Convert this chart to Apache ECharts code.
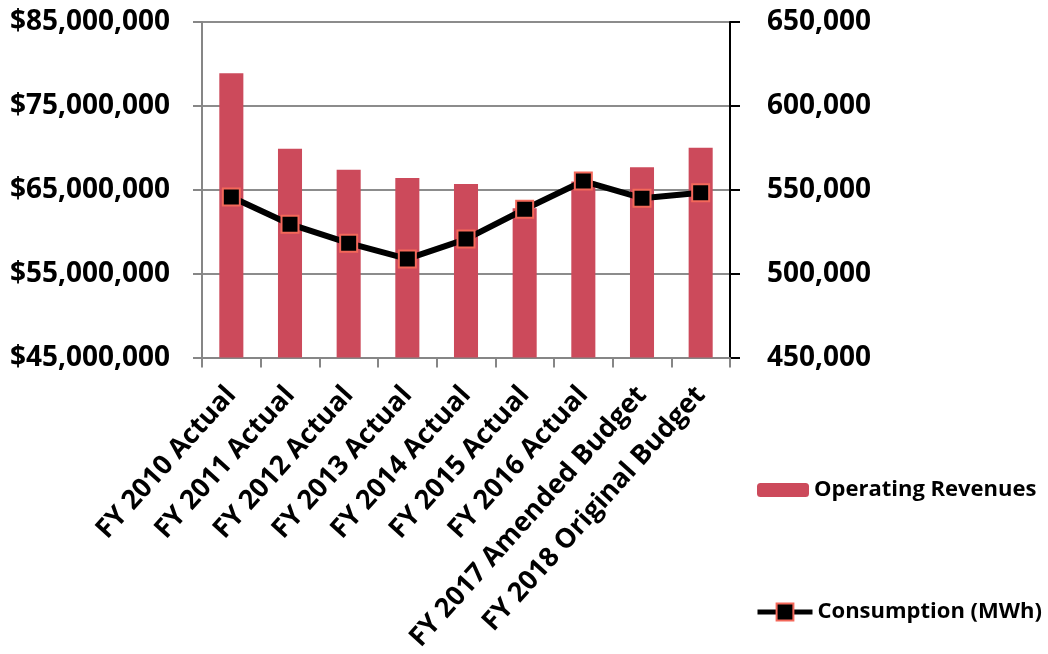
<!DOCTYPE html>
<html>
<head>
<meta charset="utf-8">
<title>Operating Revenues and Consumption</title>
<script src="https://cdn.jsdelivr.net/npm/echarts@6/dist/echarts.min.js"></script>
<style>
  html, body { margin: 0; padding: 0; background: #ffffff; }
  #chart { width: 1048px; height: 654px; }
</style>
</head>
<body>
<div id="chart"></div>
<script>
// Fiscal years shown on the category axis
const categories = [
  'FY 2010 Actual',
  'FY 2011 Actual',
  'FY 2012 Actual',
  'FY 2013 Actual',
  'FY 2014 Actual',
  'FY 2015 Actual',
  'FY 2016 Actual',
  'FY 2017 Amended Budget',
  'FY 2018 Original Budget'
];

// Operating revenues in dollars (left axis)
const revenues = [78900000, 69900000, 67400000, 66400000, 65700000, 62800000, 66000000, 67700000, 70000000];

// Consumption in MWh (right axis)
const consumption = [545700, 529500, 518200, 508800, 520600, 538400, 555200, 545000, 548300];

// Axis ranges
const revenueAxis = { min: 45000000, max: 85000000, interval: 10000000 };
const consumptionAxis = { min: 450000, max: 650000, interval: 50000 };

const FONT = '"Open Sans", "Noto Sans", sans-serif';
const BAR_COLOR = '#cc4a5b';
const MARKER_BORDER = '#f4685a';

const chart = echarts.init(document.getElementById('chart'), null, { renderer: 'canvas' });

const fmt = v => Math.round(v).toLocaleString('en-US');

const legendText = { fontFamily: FONT, fontWeight: 'bold', fontSize: 22, color: '#000', lineHeight: 26 };

chart.setOption({
  backgroundColor: '#ffffff',
  animation: false,
  textStyle: { fontFamily: FONT },
  grid: { left: 202, right: 318, top: 22, bottom: 295, containLabel: false },
  legend: [
    {
      data: ['Operating Revenues'],
      orient: 'vertical',
      left: 752,
      top: 472,
      itemWidth: 52,
      itemHeight: 14,
      textStyle: legendText
    },
    {
      data: ['Consumption (MWh)'],
      orient: 'vertical',
      left: 750,
      top: 594,
      itemWidth: 55,
      itemHeight: 21,
      lineStyle: { width: 5 },
      textStyle: legendText
    }
  ],
  xAxis: {
    type: 'category',
    data: categories,
    boundaryGap: true,
    axisLine: { show: true, lineStyle: { color: '#868686', width: 2 } },
    axisTick: { show: true, inside: false, length: 10, lineStyle: { color: '#868686', width: 2 } },
    axisLabel: {
      rotate: 48,
      interval: 0,
      margin: 33,
      fontFamily: FONT,
      fontWeight: 'bold',
      fontSize: 27,
      color: '#000'
    }
  },
  yAxis: [
    {
      type: 'value',
      position: 'left',
      min: revenueAxis.min,
      max: revenueAxis.max,
      interval: revenueAxis.interval,
      axisLine: { show: true, lineStyle: { color: '#868686', width: 2 } },
      axisTick: { show: true, inside: false, length: 9, lineStyle: { color: '#868686', width: 2 } },
      splitLine: { show: true, lineStyle: { color: '#8c8c8c', width: 2 } },
      axisLabel: {
        margin: 32,
        fontFamily: FONT,
        fontWeight: 'bold',
        fontSize: 28,
        color: '#000',
        formatter: v => '$' + fmt(v)
      }
    },
    {
      type: 'value',
      position: 'right',
      min: consumptionAxis.min,
      max: consumptionAxis.max,
      interval: consumptionAxis.interval,
      axisLine: { show: true, lineStyle: { color: '#000', width: 2 } },
      axisTick: { show: true, inside: false, length: 10, lineStyle: { color: '#000', width: 2 } },
      splitLine: { show: false },
      axisLabel: {
        margin: 37,
        fontFamily: FONT,
        fontWeight: 'bold',
        fontSize: 28,
        color: '#000',
        formatter: v => fmt(v)
      }
    }
  ],
  series: [
    {
      name: 'Operating Revenues',
      type: 'bar',
      yAxisIndex: 0,
      data: revenues,
      barCategoryGap: '59%',
      itemStyle: { color: BAR_COLOR },
      z: 2
    },
    {
      name: 'Consumption (MWh)',
      type: 'line',
      yAxisIndex: 1,
      data: consumption,
      symbol: 'rect',
      symbolSize: 17,
      showAllSymbol: true,
      lineStyle: { color: '#000', width: 6 },
      itemStyle: { color: '#000', borderColor: MARKER_BORDER, borderWidth: 2 },
      z: 3
    }
  ]
});
</script>
</body>
</html>
